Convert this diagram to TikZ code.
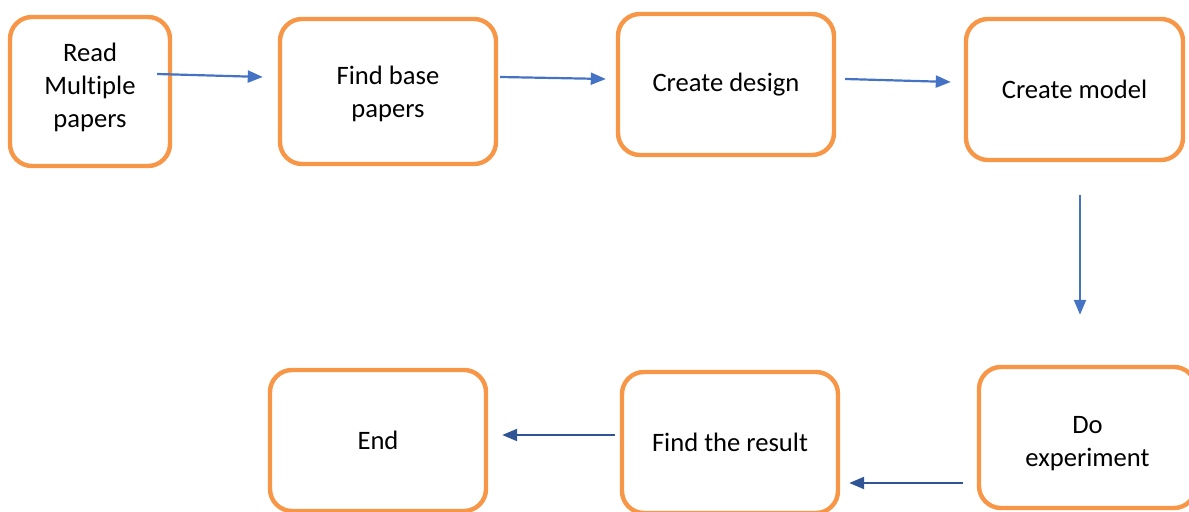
\documentclass[tikz,border=0pt]{standalone}
\usepackage{fontspec}
\setmainfont[Ligatures=NoCommon]{Carlito}
\usetikzlibrary{calc}
\usetikzlibrary{arrows.meta}
\definecolor{boxorange}{RGB}{247,150,70}
\definecolor{arrblue}{RGB}{68,114,196}
\definecolor{arrdark}{RGB}{47,85,151}
\newcommand{\lowtext}[2]{\raisebox{\dimexpr#1-3.3pt\relax}[0pt][0pt]{\begin{tabular}{@{}c@{}}#2\end{tabular}}}

\begin{document}
\begin{tikzpicture}[x=0.5pt,y=-0.5pt,
    stepbox/.style={draw=boxorange,line width=2.2pt,rounded corners=11pt,
        align=center,minimum height=70.5pt,inner sep=2pt,
        font=\fontsize{13.3}{16.5}\selectfont},
    arr/.style={draw=arrblue,line width=1.1pt,-{Triangle[length=7.5pt,width=6pt]}},
    arrd/.style={arr,draw=arrdark}]
\useasboundingbox (0,0) rectangle (1189,512);

\node[stepbox,minimum width=80pt,minimum height=74.5pt] (read) at (90,91.5) {\lowtext{1.5pt}{Read\\Multiple\\papers}};
\node[stepbox,minimum width=108pt,minimum height=72.5pt] (base) at (388,91.5) {\lowtext{-2pt}{Find base\\papers}};
\node[stepbox,minimum width=108pt] (design) at (726,84.5) {Create design};
\node[stepbox,minimum width=108.5pt] (model) at (1074.5,89.5) {Create model};
\node[stepbox,minimum width=108.5pt] (exper) at (1087.5,437.5) {\lowtext{-3.5pt}{Do\\experiment}};
\node[stepbox,minimum width=108pt] (result) at (730,442.5) {Find the result};
\node[stepbox,minimum width=108pt] (end) at (378,440.5) {End};

\draw[arr] ($(read.east)+(-15,-17.5)$) -- ($(base.west)+(-15,-14.5)$);
\draw[arr] ($(base.east)+(2,-14.5)$) -- ($(design.west)+(-10,-5.5)$);
\draw[arr] ($(design.east)+(9,-5.5)$) -- ($(model.west)+(-13,-7.5)$);
\draw[arr] ($(model.south)+(5.5,33)$) -- ($(exper.north)+(-7.5,-50)$);
\draw[arrd] ($(exper.west)+(-14,45.5)$) -- ($(result.east)+(9,40.5)$);
\draw[arrd] ($(result.west)+(-5,-7.5)$) -- ($(end.east)+(14,-5.5)$);
\end{tikzpicture}
\end{document}
